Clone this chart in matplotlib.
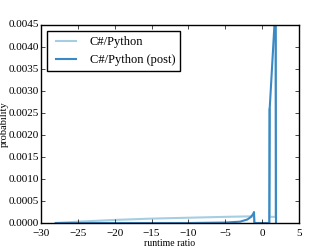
import numpy as np
import matplotlib
matplotlib.use('Agg')
import matplotlib.pyplot as plt

plt.style.use('classic')
plt.rcParams['font.family'] = ['Liberation Serif', 'DejaVu Serif']
plt.rcParams['mathtext.fontset'] = 'cm'

# C#/Python runtime ratio density (prior)
x_prior = [-28, -25, -20, -15, -10, -5, -2, -1.1, -1.05, 0.95, 1.0, 0.98, 1.03, 1.84, 1.86, 1.9]
p_prior = [0.0, 0.00003, 0.00007, 0.00010, 0.00012, 0.00014, 0.00015, 0.00015, 0.0, 0.0, 0.0026, 0.00014, 0.00014, 0.00014, 0.0050, 0.0]

# C#/Python runtime ratio density (post)
x_post = [-28, -10, -5, -3, -2, -1.5, -1.2, -1.1, -1.05, 0.98, 1.03, 1.84, 1.88]
p_post = [0.0, 0.0, 0.00001, 0.00003, 0.00008, 0.00014, 0.00021, 0.00025, 0.0, 0.0, 0.0026, 0.0050, 0.0]

fig = plt.figure(figsize=(3.32, 2.49), dpi=100)
ax = fig.add_axes([0.1235, 0.1044, 0.777, 0.7952])
ax.plot(x_prior, p_prior, color='#a6cee3', lw=1.5, label='C#/Python')
ax.plot(x_post, p_post, color='#3a89c4', lw=1.5, label='C#/Python (post)')
ax.set_xlim(-30, 5)
ax.set_ylim(0, 0.0045)
ax.set_xticks(np.arange(-30, 6, 5))
ax.set_yticks(np.arange(0, 0.0046, 0.0005))
ax.set_yticklabels(['%.4f' % v for v in np.arange(0, 0.0046, 0.0005)])
ax.tick_params(labelsize=8, length=3)
ax.tick_params(axis='y', pad=1.5)
ax.set_xlabel('runtime ratio', fontsize=7, labelpad=1)
ax.set_ylabel('probability', fontsize=7.5)
ax.yaxis.set_label_coords(-0.125, 0.5)
ax.legend(loc='upper left', fontsize=9, handlelength=2.2)

fig.savefig('out.png', dpi=100)
